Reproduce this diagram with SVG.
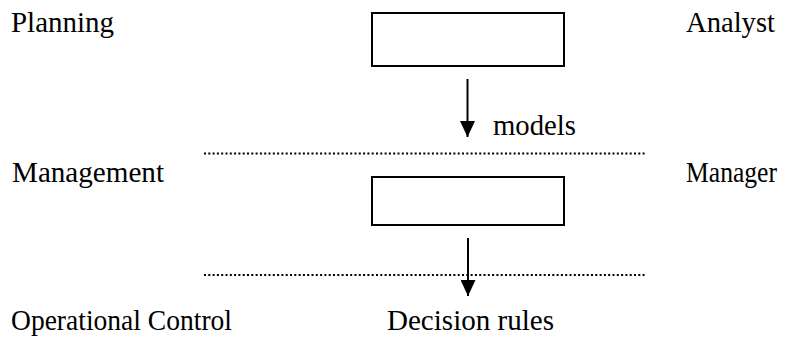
<svg xmlns="http://www.w3.org/2000/svg" width="789" height="339" viewBox="0 0 789 339">
  <style>
    text { font-family: 'Liberation Serif', 'Times New Roman', serif; font-size: 29px; fill: #000; }
    .box { fill: #fff; stroke: #000; stroke-width: 2; }
    .dot { stroke: #000; stroke-width: 2; stroke-dasharray: 2 2.3; fill: none; }
    .arr { stroke: #000; stroke-width: 2; fill: none; }
  </style>
  <defs>
    <marker id="ah" markerWidth="16" markerHeight="15" refX="16" refY="7.5" orient="auto" markerUnits="userSpaceOnUse">
      <path d="M0,0 L16,7.5 L0,15 Z" fill="#000"/>
    </marker>
  </defs>
  <rect width="789" height="339" fill="#fff"/>
  <g id="labels">
    <text x="11" y="32" textLength="103" lengthAdjust="spacingAndGlyphs">Planning</text>
    <text x="686" y="32" textLength="89" lengthAdjust="spacingAndGlyphs">Analyst</text>
    <text x="12" y="182" textLength="152" lengthAdjust="spacingAndGlyphs">Management</text>
    <text x="686" y="182" textLength="91" lengthAdjust="spacingAndGlyphs">Manager</text>
    <text x="11" y="330" textLength="221" lengthAdjust="spacingAndGlyphs">Operational Control</text>
  </g>
  <g id="box-planning">
    <rect class="box" x="372" y="13" width="192" height="53"/>
  </g>
  <g id="box-management">
    <rect class="box" x="372" y="177" width="192" height="48"/>
  </g>
  <g id="separators">
    <line class="dot" x1="204" y1="153.5" x2="646" y2="153.5"/>
    <line class="dot" x1="204" y1="275" x2="646" y2="275"/>
  </g>
  <g id="connectors">
    <line class="arr" x1="467.5" y1="79" x2="467.5" y2="137" marker-end="url(#ah)"/>
    <text x="493" y="135" textLength="83" lengthAdjust="spacingAndGlyphs">models</text>
    <line class="arr" x1="468" y1="238" x2="468" y2="296" marker-end="url(#ah)"/>
    <text x="387" y="330" textLength="167" lengthAdjust="spacingAndGlyphs">Decision rules</text>
  </g>
</svg>
